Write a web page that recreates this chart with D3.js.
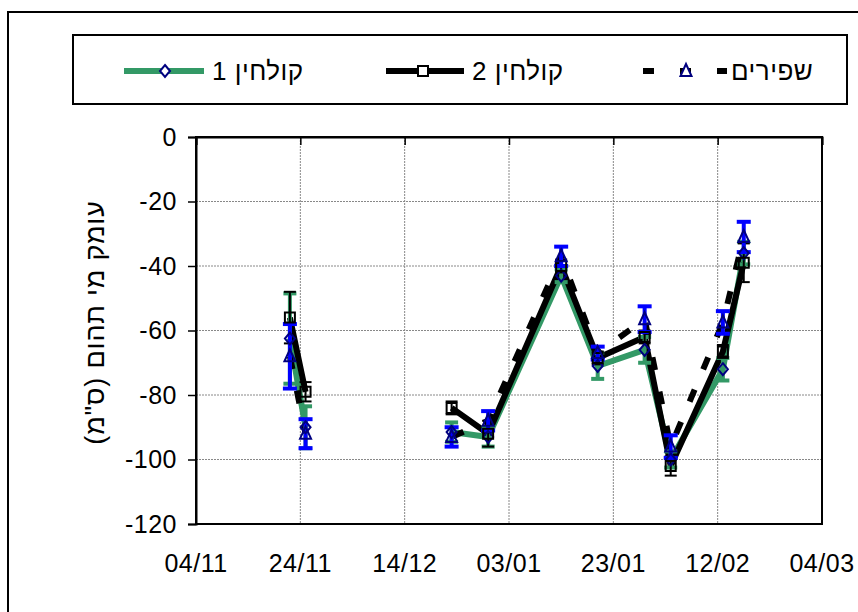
<!DOCTYPE html>
<html>
<head>
<meta charset="utf-8">
<script src="https://cdn.jsdelivr.net/npm/d3@7"></script>
<style>
  body { margin: 0; background: #fff; }
  text { font-family: 'Liberation Sans', Arial, sans-serif; fill: #000; }
</style>
</head>
<body>
<svg id="chart"></svg>
<script>
// Canvas size
var canvasWidth = 858;
var canvasHeight = 612;

// Plot area
var plot = { left: 196, right: 822, top: 137, bottom: 524 };

// Data (dates of measurement, null = no sample)
var dates = ['2006-11-22', '2006-11-25', '2006-12-09', '2006-12-23', '2006-12-30',
  '2007-01-13', '2007-01-20', '2007-01-29', '2007-02-03', '2007-02-13', '2007-02-17'];

var seriesNames = ['קולחין 1', 'קולחין 2', 'שפירים'];

var effluent1 = [-62.5, -90, null, -91.5, -93, -43, -71, -66, -100, -72, -36];
var effluent1Err = [14, 6.5, null, 3, 3, 2, 4, 4, 2.5, 3.5, 3.5];

var effluent2 = [-56, -79, null, -84, -92, -40, -68.5, -62, -102, -66.5, -39];
var effluent2Err = [8, 3, null, 2, 4, 2, 2, 2, 3, 2, 6];

var freshWater = [-68, -92, null, -93, -88, -37, -67, -56.5, -96, -57.5, -31];
var freshWaterErr = [10, 4.5, null, 3, 3, 3, 2, 4, 3.5, 3.5, 4.7];

var xTickDates = ['2006-11-04', '2006-11-24', '2006-12-14', '2007-01-03', '2007-01-23', '2007-02-12', '2007-03-04'];
var yTicks = [0, -20, -40, -60, -80, -100, -120];

var yTitle = 'עומק מי תהום (ס"מ)';

var parseDate = d3.utcParse('%Y-%m-%d');

var svg = d3.select('#chart')
  .attr('width', canvasWidth)
  .attr('height', canvasHeight);

// Outer chart frame (runs off the picture on the right and bottom)
svg.append('rect')
  .attr('x', 8)
  .attr('y', 12)
  .attr('width', 900)
  .attr('height', 700)
  .attr('fill', 'none')
  .attr('stroke', '#000')
  .attr('stroke-width', 2);

// Scales
var xScale = d3.scaleUtc()
  .domain([parseDate(xTickDates[0]), parseDate(xTickDates[xTickDates.length - 1])])
  .range([plot.left, plot.right]);

var yScale = d3.scaleLinear()
  .domain([-120, 0])
  .range([plot.bottom, plot.top]);

// Gridlines
var grid = svg.append('g').classed('grid', true);

grid.selectAll('.vgrid')
  .data(xTickDates.slice(1, -1))
  .enter()
  .append('line')
  .attr('x1', function(d) { return xScale(parseDate(d)); })
  .attr('x2', function(d) { return xScale(parseDate(d)); })
  .attr('y1', plot.top)
  .attr('y2', plot.bottom)
  .attr('stroke', '#888')
  .attr('stroke-width', 1)
  .attr('stroke-dasharray', '2,1');

grid.selectAll('.hgrid')
  .data(yTicks.slice(1, -1))
  .enter()
  .append('line')
  .attr('x1', plot.left)
  .attr('x2', plot.right)
  .attr('y1', function(d) { return yScale(d); })
  .attr('y2', function(d) { return yScale(d); })
  .attr('stroke', '#888')
  .attr('stroke-width', 1)
  .attr('stroke-dasharray', '2,1');

// Plot border
svg.append('rect')
  .attr('x', plot.left)
  .attr('y', plot.top)
  .attr('width', plot.right - plot.left)
  .attr('height', plot.bottom - plot.top)
  .attr('fill', 'none')
  .attr('stroke', '#000')
  .attr('stroke-width', 2);

// Axes
var yAxis = d3.axisLeft(yScale)
  .tickValues(yTicks)
  .tickSize(8)
  .tickPadding(11)
  .tickFormat(function(d) { return String(d); });

svg.append('g')
  .attr('class', 'y-axis')
  .attr('transform', 'translate(' + plot.left + ',0)')
  .call(yAxis);

// x axis crosses at 0 (top), ticks point down into the plot, labels sit below
var xAxis = d3.axisBottom(xScale)
  .tickValues(xTickDates.map(parseDate))
  .tickSize(8)
  .tickFormat(function() { return ''; });

svg.append('g')
  .attr('class', 'x-axis')
  .attr('transform', 'translate(0,' + plot.top + ')')
  .call(xAxis);

svg.append('g')
  .attr('class', 'x-labels')
  .selectAll('text')
  .data(xTickDates)
  .enter()
  .append('text')
  .attr('x', function(d) { return xScale(parseDate(d)); })
  .attr('y', 572)
  .attr('text-anchor', 'middle')
  .style('font-size', '25px')
  .style('letter-spacing', '0.5px')
  .text(function(d) { return d3.utcFormat('%d/%m')(parseDate(d)); });

svg.selectAll('.y-axis text')
  .style('font-size', '25px')
  .style('letter-spacing', '0.5px')
  .style('font-family', "'Liberation Sans', Arial, sans-serif");
svg.selectAll('.x-axis .domain, .y-axis .domain').attr('stroke-width', 2);
svg.selectAll('.x-axis .tick line, .y-axis .tick line').attr('stroke-width', 1.5);

// Y axis title
svg.append('text')
  .attr('transform', 'translate(104,' + ((plot.top + plot.bottom) / 2 - 8) + ') rotate(-90)')
  .attr('text-anchor', 'middle')
  .attr('direction', 'rtl')
  .style('font-size', '27px')
  .style('letter-spacing', '0.8px')
  .text(yTitle);

// Build point lists
function points(values, errs) {
  return dates.map(function(d, i) {
    return { date: parseDate(d), value: values[i], err: errs[i] };
  });
}

var s1 = points(effluent1, effluent1Err);
var s2 = points(effluent2, effluent2Err);
var s3 = points(freshWater, freshWaterErr);

var line = d3.line()
  .defined(function(d) { return d.value !== null; })
  .x(function(d) { return xScale(d.date); })
  .y(function(d) { return yScale(d.value); });

var green = '#339966';
var navy = '#000080';
var blue = '#0000ff';

// Lines
svg.append('path')
  .datum(s1)
  .attr('d', line)
  .attr('fill', 'none')
  .attr('stroke', green)
  .attr('stroke-width', 6)
  .attr('stroke-linejoin', 'round');

svg.append('path')
  .datum(s2)
  .attr('d', line)
  .attr('fill', 'none')
  .attr('stroke', '#000')
  .attr('stroke-width', 6)
  .attr('stroke-linejoin', 'round');

svg.append('path')
  .datum(s3)
  .attr('d', line)
  .attr('fill', 'none')
  .attr('stroke', '#000')
  .attr('stroke-width', 6)
  .attr('stroke-dasharray', '13,22');

// Error bars
function errorBars(data, color, width, cap) {
  var g = svg.append('g').classed('err', true);
  var bars = g.selectAll('g')
    .data(data.filter(function(d) { return d.value !== null; }))
    .enter()
    .append('g');

  bars.append('line')
    .attr('x1', function(d) { return xScale(d.date); })
    .attr('x2', function(d) { return xScale(d.date); })
    .attr('y1', function(d) { return yScale(d.value + d.err); })
    .attr('y2', function(d) { return yScale(d.value - d.err); })
    .attr('stroke', color)
    .attr('stroke-width', width);

  [1, -1].forEach(function(sign) {
    bars.append('line')
      .attr('x1', function(d) { return xScale(d.date) - cap / 2; })
      .attr('x2', function(d) { return xScale(d.date) + cap / 2; })
      .attr('y1', function(d) { return yScale(d.value + sign * d.err); })
      .attr('y2', function(d) { return yScale(d.value + sign * d.err); })
      .attr('stroke', color)
      .attr('stroke-width', width);
  });
}

errorBars(s1, green, 4, 13);
errorBars(s2, '#000', 2, 12);
errorBars(s3, blue, 4, 14);

// Marker shapes
var diamondPath = 'M0,-6L5,0L0,6L-5,0Z';
var squarePath = 'M-5,-5L5,-5L5,5L-5,5Z';
var trianglePath = 'M0,-7L5.5,5L-5.5,5Z';

function markers(data, path, color) {
  svg.append('g')
    .selectAll('path')
    .data(data.filter(function(d) { return d.value !== null; }))
    .enter()
    .append('path')
    .attr('d', path)
    .attr('transform', function(d) {
      return 'translate(' + xScale(d.date) + ',' + yScale(d.value) + ')';
    })
    .attr('fill', 'none')
    .attr('stroke', color)
    .attr('stroke-width', 2);
}

markers(s1, diamondPath, navy);
markers(s2, squarePath, '#000');
markers(s3, trianglePath, navy);

// Legend
var legend = svg.append('g').classed('legend', true);

legend.append('rect')
  .attr('x', 73)
  .attr('y', 35)
  .attr('width', 774)
  .attr('height', 69)
  .attr('fill', '#fff')
  .attr('stroke', '#000')
  .attr('stroke-width', 2);

var legendY = 71;

var legendItems = [
  { x1: 124, x2: 204, mx: 165, textX: 212, color: green, dash: null, path: diamondPath, mcolor: navy },
  { x1: 386, x2: 464, mx: 423, textX: 472, color: '#000', dash: null, path: squarePath, mcolor: '#000' },
  { x1: 643, x2: 727, mx: 686, textX: 731, color: '#000', dash: '11,26', path: trianglePath, mcolor: navy }
];

legendItems.forEach(function(item, i) {
  legend.append('line')
    .attr('x1', item.x1)
    .attr('x2', item.x2)
    .attr('y1', legendY)
    .attr('y2', legendY)
    .attr('stroke', item.color)
    .attr('stroke-width', 6)
    .attr('stroke-dasharray', item.dash);

  legend.append('path')
    .attr('d', item.path)
    .attr('transform', 'translate(' + item.mx + ',' + legendY + ')')
    .attr('fill', '#fff')
    .attr('stroke', item.mcolor)
    .attr('stroke-width', 2);

  legend.append('text')
    .attr('x', item.textX)
    .attr('y', legendY + 9)
    .attr('direction', 'rtl')
    .attr('text-anchor', 'end')
    .style('font-size', '26px')
    .style('letter-spacing', '0.5px')
    .text(seriesNames[i]);
});
</script>
</body>
</html>
